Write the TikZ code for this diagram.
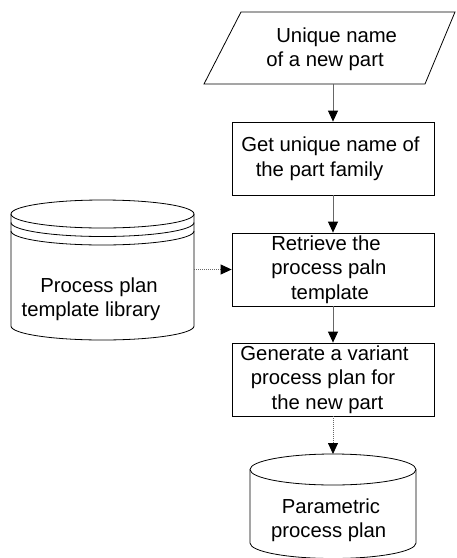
\documentclass[tikz,border=0pt]{standalone}
\usepackage{fontspec}
\setmainfont{Liberation Sans}
\usetikzlibrary{arrows.meta}
\newcommand\shiftln[2]{\hspace*{#1}#2}
\begin{document}
\begin{tikzpicture}[x=1pt,y=-1pt,
  txt/.style={font=\fontsize{20.3}{24.5}\selectfont, align=center, inner sep=0pt},
  procbox/.style={txt, draw=black, line width=0.8pt, minimum width=202pt, minimum height=73pt},
  shapeline/.style={draw=black, line width=0.8pt},
  flow/.style={draw=black!60, line width=0.8pt, -{Triangle[length=11pt,width=10pt,color=black]}},
  dflow/.style={flow, dash pattern=on 1pt off 1pt}]
\useasboundingbox (0,0) rectangle (457,558);

% input parallelogram
\coordinate (ptl) at (241,12);
\coordinate (ptr) at (455,12);
\coordinate (pbr) at (425,84);
\coordinate (pbl) at (204,84);
\draw[shapeline] (ptl) -- (ptr) -- (pbr) -- (pbl) -- cycle;
\node[txt] (inp) at (331,49) {\shiftln{11.4pt}{Unique name}\\\shiftln{-12pt}{of a new part}};
\coordinate (pout) at (333,84);

% process boxes
\node[procbox] (b1) at (333,158.5) {\shiftln{-5pt}{Get unique name of}\\\shiftln{-27pt}{the part family}};
\node[procbox] (b2) at (333,269.5) {\shiftln{-14pt}{Retrieve the}\\\shiftln{-8pt}{process paln}\\\shiftln{-6pt}{template}};
\node[procbox] (b3) at (333,379.5) {\shiftln{-17pt}{Generate a variant}\\\shiftln{-20pt}{process plan for}\\\shiftln{-11pt}{the new part}};

% left cylinder (library)
\draw[shapeline] (102.5,214) ellipse[x radius=91.5, y radius=14];
\draw[shapeline] (11,222.5) arc[start angle=180, end angle=0, x radius=91.5, y radius=14];
\draw[shapeline] (11,231) arc[start angle=180, end angle=0, x radius=91.5, y radius=14];
\draw[shapeline] (11,214) -- (11,326) arc[start angle=180, end angle=0, x radius=91.5, y radius=14] -- (194,214);
\node[txt] (lib) at (102.5,299) {\shiftln{-7pt}{Process plan}\\\shiftln{-23pt}{template library}};
\coordinate (libR) at (194,269.5);

% bottom cylinder
\draw[shapeline] (333,469.5) ellipse[x radius=83, y radius=15.5];
\draw[shapeline] (250,469.5) -- (250,543) arc[start angle=180, end angle=0, x radius=83, y radius=15.5] -- (416,469.5);
\node[txt] (pp) at (333,520) {\shiftln{-4pt}{Parametric}\\\shiftln{-8.6pt}{process plan}};
\coordinate (cyltop) at (333,454);

% connectors
\draw[flow] (pout) -- (b1);
\draw[flow] (b1) -- (b2);
\draw[flow] (b2) -- (b3);
\draw[dflow] (libR) -- (b2);
\draw[dflow] (b3) -- (cyltop);
\end{tikzpicture}
\end{document}
